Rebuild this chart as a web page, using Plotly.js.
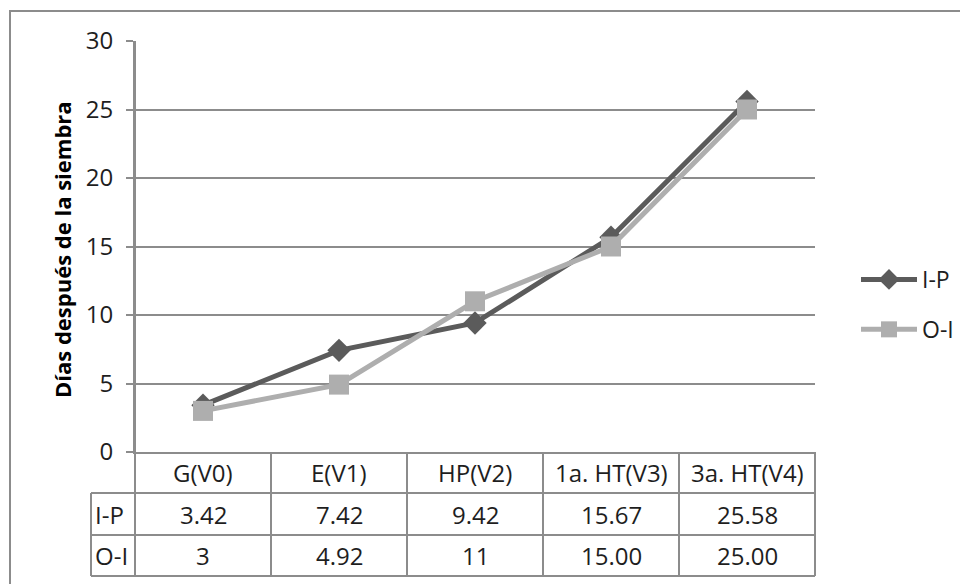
<!DOCTYPE html>
<html>
<head>
<meta charset="utf-8">
<script src="https://cdn.plot.ly/plotly-3.0.1.min.js"></script>
<style>
  html, body { margin: 0; padding: 0; background: #ffffff; }
  #chart { width: 960px; height: 584px; }
</style>
</head>
<body>
<div id="chart"></div>
<script>
// Growth stages (x categories)
const stages = ['G(V0)', 'E(V1)', 'HP(V2)', '1a. HT(V3)', '3a. HT(V4)'];

// Days after sowing, as printed in the data table
const ipText = ['3.42', '7.42', '9.42', '15.67', '25.58'];
const oiText = ['3', '4.92', '11', '15.00', '25.00'];

// Series names
const seriesNames = ['I-P', 'O-I'];

// Y axis ticks
const yTicks = [0, 5, 10, 15, 20, 25, 30];

const ipValues = ipText.map(Number);
const oiValues = oiText.map(Number);

const FONT = 'Open Sans, Calibri, sans-serif';
const TXT = '#1e1e1e';
const GRID = '#8c8c8c';
const DARK = '#5b5b5b';
const LIGHT = '#aeaeae';

const W = 960, H = 584;
const M = { l: 135, r: 145, t: 41, b: 132, autoexpand: false };
const plotW = W - M.l - M.r;
const plotH = H - M.t - M.b;

// Table geometry below the x axis (pixels from the axis line)
const rowPx = [41, 83, 124];
const py = px => -px / plotH;          // pixel offset below axis -> paper y
const pxX = px => (px - M.l) / plotW;  // absolute pixel x -> paper x
const labelColX = pxX(91);

const traces = [
  {
    x: stages, y: ipValues, name: seriesNames[0], type: 'scatter', mode: 'lines+markers',
    line: { color: DARK, width: 5 },
    marker: { symbol: 'diamond', size: 18, color: DARK },
    legendgroup: 'a', hoverinfo: 'x+y'
  },
  {
    x: stages, y: oiValues, name: seriesNames[1], type: 'scatter', mode: 'lines+markers',
    line: { color: LIGHT, width: 5 },
    marker: { symbol: 'square', size: 20, color: LIGHT },
    legendgroup: 'b', hoverinfo: 'x+y'
  }
];

const shapes = [];
const lineStyle = { color: GRID, width: 2 };

// Outer chart frame
shapes.push({ type: 'rect', xref: 'paper', yref: 'paper',
  x0: pxX(10), x1: pxX(1200), y0: 1 + (M.t - 11) / plotH, y1: -2,
  line: lineStyle, layer: 'below' });

// Table horizontal rules
rowPx.forEach(p => {
  shapes.push({ type: 'line', xref: 'paper', yref: 'paper',
    x0: labelColX, x1: 1, y0: py(p), y1: py(p), line: lineStyle });
});

// Table column separators between stages
for (let k = 1; k < stages.length; k++) {
  shapes.push({ type: 'line', xref: 'x', yref: 'paper',
    x0: k - 0.5, x1: k - 0.5, y0: 0, y1: py(rowPx[2]), line: lineStyle });
}
// Table outer verticals
[0, 1].forEach(xp => {
  shapes.push({ type: 'line', xref: 'paper', yref: 'paper',
    x0: xp, x1: xp, y0: xp === 0 ? 1 : 0, y1: py(rowPx[2]), line: lineStyle });
});
shapes.push({ type: 'line', xref: 'paper', yref: 'paper',
  x0: labelColX, x1: labelColX, y0: py(rowPx[0]), y1: py(rowPx[2]), line: lineStyle });

const annotations = [];
const cellFont = { family: FONT, size: 24, color: TXT };
const headerY = py(rowPx[0] / 2);
const row1Y = py((rowPx[0] + rowPx[1]) / 2);
const row2Y = py((rowPx[1] + rowPx[2]) / 2);

stages.forEach((s, i) => {
  annotations.push({ x: i, y: headerY, xref: 'x', yref: 'paper', text: s,
    showarrow: false, xanchor: 'center', yanchor: 'middle', font: cellFont });
  annotations.push({ x: i, y: row1Y, xref: 'x', yref: 'paper', text: ipText[i],
    showarrow: false, xanchor: 'center', yanchor: 'middle', font: cellFont });
  annotations.push({ x: i, y: row2Y, xref: 'x', yref: 'paper', text: oiText[i],
    showarrow: false, xanchor: 'center', yanchor: 'middle', font: cellFont });
});
[[seriesNames[0], row1Y], [seriesNames[1], row2Y]].forEach(([t, yy]) => {
  annotations.push({ x: pxX(93), y: yy, xref: 'paper', yref: 'paper', text: t,
    showarrow: false, xanchor: 'left', yanchor: 'middle', font: cellFont });
});

// Rotated y axis title
annotations.push({ x: pxX(62), y: (452 - 250) / plotH, xref: 'paper', yref: 'paper',
  text: '<b>Días después de la siembra</b>', textangle: -90, showarrow: false,
  xanchor: 'center', yanchor: 'middle', font: { family: FONT, size: 22, color: '#000000' } });

const layout = {
  width: W, height: H,
  margin: M,
  paper_bgcolor: '#ffffff', plot_bgcolor: '#ffffff',
  showlegend: true,
  legend: {
    x: pxX(856), y: (452 - 258) / plotH, xanchor: 'left', yanchor: 'top',
    font: { family: FONT, size: 23, color: TXT },
    itemwidth: 56,
    tracegroupgap: 17, bgcolor: 'rgba(0,0,0,0)'
  },
  xaxis: {
    type: 'category', range: [-0.5, stages.length - 0.5],
    showgrid: false, showticklabels: false, ticks: '',
    showline: true, linecolor: GRID, linewidth: 2, zeroline: false, fixedrange: true
  },
  yaxis: {
    range: [0, 30], tickvals: yTicks, ticktext: yTicks.map(String),
    showgrid: true, gridcolor: GRID, gridwidth: 2,
    ticks: 'outside', ticklen: 7, tickwidth: 2, tickcolor: GRID,
    ticklabelstandoff: 8,
    showline: true, linecolor: GRID, linewidth: 2, zeroline: false,
    tickfont: { family: FONT, size: 24, color: TXT }, fixedrange: true
  },
  shapes: shapes,
  annotations: annotations
};

Plotly.newPlot('chart', traces, layout, { displayModeBar: false, staticPlot: true });
</script>
</body>
</html>
